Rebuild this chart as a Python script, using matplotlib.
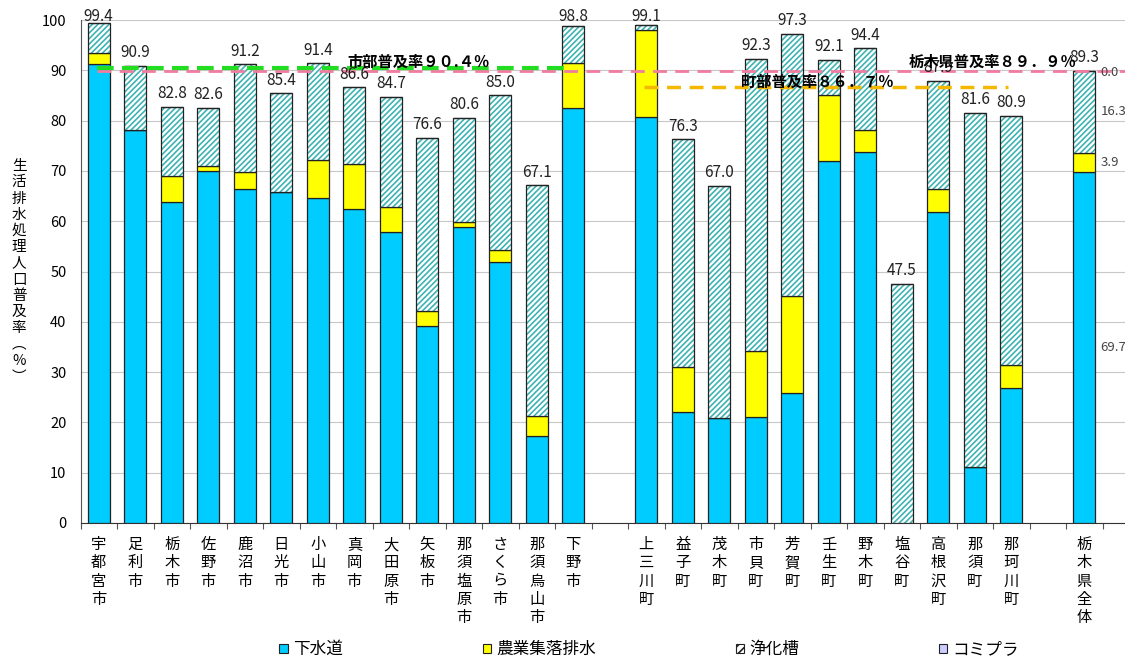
#生活排水処理人口普及率 (栃木県, 市町別) - stacked bars

import numpy as np
import matplotlib
matplotlib.use("Agg")
import matplotlib.pyplot as plt
from matplotlib.patches import Patch

plt.rcParams['font.family'] = ['Noto Sans CJK JP', 'DejaVu Sans']
plt.rcParams['hatch.linewidth'] = 1.2

#data
names = ["宇都宮市", "足利市", "栃木市", "佐野市", "鹿沼市", "日光市", "小山市", "真岡市",
         "大田原市", "矢板市", "那須塩原市", "さくら市", "那須烏山市", "下野市", "",
         "上三川町", "益子町", "茂木町", "市貝町", "芳賀町", "壬生町", "野木町", "塩谷町",
         "高根沢町", "那須町", "那珂川町", "", "栃木県全体"]
sewer = [91.3, 78.1, 63.8, 70.0, 66.5, 65.9, 64.6, 62.4, 57.8, 39.2, 58.8, 51.8, 17.2, 82.6, 0,
         80.7, 22.0, 20.9, 21.1, 25.9, 72.0, 73.7, 0.0, 61.8, 11.1, 26.8, 0, 69.7]
agri = [2.1, 0.0, 5.2, 0.9, 3.2, 0.0, 7.5, 8.9, 5.0, 2.9, 1.0, 2.5, 4.1, 8.8, 0,
        17.3, 9.1, 0.0, 13.1, 19.2, 13.1, 4.4, 0.0, 4.6, 0.0, 4.6, 0, 3.9]
septic = [6.0, 12.8, 13.8, 11.7, 21.5, 19.5, 19.3, 15.3, 21.9, 34.5, 20.8, 30.7, 45.8, 7.4, 0,
          1.1, 45.2, 46.1, 58.1, 52.2, 7.0, 16.3, 47.5, 21.5, 70.5, 49.5, 0, 16.3]
komipura = [0.0] * 28
total_labels = ["99.4", "90.9", "82.8", "82.6", "91.2", "85.4", "91.4", "86.6", "84.7", "76.6",
                "80.6", "85.0", "67.1", "98.8", "", "99.1", "76.3", "67.0", "92.3", "97.3",
                "92.1", "94.4", "47.5", "87.9", "81.6", "80.9", "", "89.3"]

city_rate = 90.4
town_rate = 86.7
pref_rate = 89.9

c_sewer = "#00ccff"
c_agri = "#ffff00"
c_septic = "#3fb3b3"
c_komi = "#ccccff"

x = np.arange(len(names))
sewer = np.array(sewer)
agri = np.array(agri)
septic = np.array(septic)
komipura = np.array(komipura)
has_bar = np.array([n != "" for n in names])

fig = plt.figure(figsize=(11.25, 6.57), dpi=100)
ax = fig.add_axes([80.5 / 1125, 134 / 657, 29 * 36.5 / 1125, 503 / 657])

w = 0.6
xb = x[has_bar]
ax.bar(xb, sewer[has_bar], w, color=c_sewer, edgecolor="#222222", linewidth=0.9, zorder=3)
ax.bar(xb, agri[has_bar], w, bottom=sewer[has_bar], color=c_agri, edgecolor="#222222",
       linewidth=0.9, zorder=3)
# hatch drawn in teal, outline drawn on top in black
bot = sewer + agri
ax.bar(xb, septic[has_bar], w, bottom=bot[has_bar], color="white", edgecolor=c_septic,
       hatch="//////", linewidth=0, zorder=3)
ax.bar(xb, septic[has_bar], w, bottom=bot[has_bar], fill=False, edgecolor="#222222",
       linewidth=0.9, zorder=4)
ax.bar(xb, komipura[has_bar], w, bottom=(bot + septic)[has_bar], color=c_komi,
       edgecolor="#222222", linewidth=0.9, zorder=3)

#total labels above bars
tops = sewer + agri + septic + komipura
for i in xb:
    ax.text(i, min(tops[i] + 2.6, 100.6), total_labels[i], ha="center", va="center",
            fontsize=11, color="#222222", zorder=6, clip_on=False)

#segment labels for prefecture total
last = xb[-1]
segs = [(sewer[last], 0), (agri[last], sewer[last]), (septic[last], sewer[last] + agri[last]),
        (komipura[last], sewer[last] + agri[last] + septic[last])]
for val, b in segs:
    ax.text(last + 0.45, b + val / 2 - (0.4 if val == 0 else 0), f"{val:.1f}", ha="left",
            va="center", fontsize=9.5, style="italic", color="#444444", zorder=6,
            clip_on=False)

#average lines
ax.hlines(pref_rate, -0.05, 28.5, colors="#f07ca0", linestyles=(0, (5, 3)), linewidth=2,
          zorder=5)
ax.hlines(city_rate, -0.05, 12.83, colors="#22dd22", linestyles=(0, (4, 2)), linewidth=3,
          zorder=5)
ax.hlines(town_rate, 14.94, 24.9, colors="#f5b800", linestyles=(0, (4, 2.5)), linewidth=2.5,
          zorder=5)
ax.text(6.8, 91.6, "市部普及率９０.４％", fontsize=11, fontweight="bold", va="center",
        ha="left", zorder=7)
ax.text(17.6, 87.7, "町部普及率８６．７％", fontsize=11, fontweight="bold", va="center",
        ha="left", zorder=7)
ax.text(22.2, 91.6, "栃木県普及率８９．９％", fontsize=11, fontweight="bold", va="center",
        ha="left", zorder=7)

#axes
ax.set_xlim(-0.5, 28.5)
ax.set_ylim(0, 100)
ax.set_yticks(np.arange(0, 101, 10))
ax.tick_params(axis="y", labelsize=10.5, length=0, pad=10)
ax.set_xticks(np.arange(-0.5, 28.5, 1.0))
ax.set_xticklabels([])
ax.tick_params(axis="x", length=4, width=0.8, color="#555555", direction="out")
ax.grid(axis="y", color="#c8c8c8", linewidth=0.8, zorder=0)
ax.spines["top"].set_visible(False)
ax.spines["right"].set_visible(False)
ax.spines["left"].set_color("#555555")
ax.spines["bottom"].set_color("#333333")
ax.axhline(100, color="#999999", linewidth=1.2, zorder=1)

for i, n in enumerate(names):
    if n:
        ax.text(i, -0.026, "\n".join(n), transform=ax.get_xaxis_transform(), ha="center",
                va="top", fontsize=11, linespacing=1.1, clip_on=False)

ax.text(-0.058, 0.5, "\n".join("生活排水処理人口普及率︵%︶"), transform=ax.transAxes,
        ha="center", va="center", fontsize=10.5, linespacing=1.2)

handles = [Patch(facecolor=c_sewer, edgecolor="#222222", linewidth=0.8),
           Patch(facecolor=c_agri, edgecolor="#222222", linewidth=0.8),
           Patch(facecolor="white", edgecolor="#222222", hatch="////", linewidth=0.8),
           Patch(facecolor=c_komi, edgecolor="#222222", linewidth=0.8)]
fig.legend(handles, ["下水道", "農業集落排水", "浄化槽", "コミプラ"], loc="center",
           bbox_to_anchor=(0.577, 0.011), ncol=4, frameon=False, fontsize=12,
           handlelength=0.5, handleheight=0.5, handletextpad=0.3, columnspacing=8.4,
           borderpad=0)

fig.savefig("out.png", dpi=100)
